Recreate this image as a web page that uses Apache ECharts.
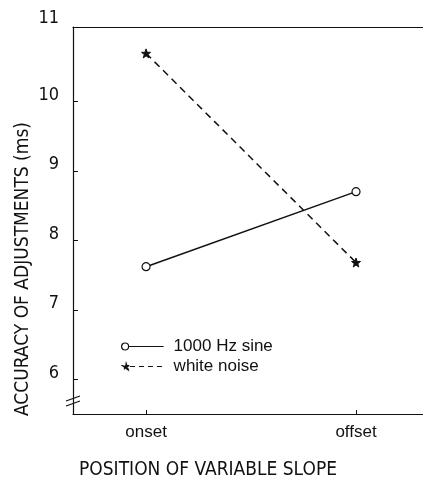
<!DOCTYPE html>
<html>
<head>
<meta charset="utf-8">
<script src="https://cdn.jsdelivr.net/npm/echarts@6/dist/echarts.min.js"></script>
<style>html,body{margin:0;padding:0;background:#fff;}#c{width:423px;height:479px;}</style>
</head>
<body>
<div id="c"></div>
<script>
var categories = ['onset', 'offset'];
var categoryX = [1, 2];
var sineValues = [7.62, 8.70];
var noiseValues = [10.69, 7.68];
var yTicks = [6, 7, 8, 9, 10, 11];
var seriesNames = ['1000 Hz sine', 'white noise'];

var NARROW = "'Liberation Sans Narrow', 'DejaVu Sans Condensed', sans-serif";
var SANS = "'Liberation Sans', Arial, sans-serif";
var STAR = 'path://M0,-10 L2.35,-3.24 L9.51,-3.09 L3.8,1.24 L5.88,8.09 L0,4 L-5.88,8.09 L-3.8,1.24 L-9.51,-3.09 L-2.35,-3.24 Z';
var ICON_SINE = 'path://M0,3.5 A3.5,3.5 0 1,1 7,3.5 A3.5,3.5 0 1,1 0,3.5 Z M7,3.5 L42,3.5';
var ICON_NOISE = 'path://M4,0 L4.94,2.71 L7.8,2.76 L5.52,4.49 L6.35,7.24 L4,5.6 L1.65,7.24 L2.48,4.49 L0.2,2.76 L3.06,2.71 Z M8,3.6 L42,3.6';

function pairs(vals) { return vals.map(function (v, i) { return [categoryX[i], v]; }); }

var chart = echarts.init(document.getElementById('c'));
chart.setOption({
  animation: false,
  backgroundColor: '#fff',
  grid: { left: 73, top: 27, right: 0, bottom: 65 },
  xAxis: [{
    type: 'value', min: 0.652, max: 2.319,
    axisLine: { show: true, lineStyle: { color: '#111', width: 1.2 } },
    axisTick: { show: true, inside: true, length: 4, customValues: categoryX, lineStyle: { color: '#111' } },
    axisLabel: { customValues: categoryX, margin: 10, fontFamily: SANS, fontSize: 17, color: '#111',
      formatter: function (v) { var i = categoryX.indexOf(v); return i >= 0 ? categories[i] : ''; } },
    splitLine: { show: false }
  }, {
    type: 'value', position: 'top', min: 0.652, max: 2.319,
    axisLine: { show: true, lineStyle: { color: '#111', width: 1.2 } },
    axisTick: { show: false }, axisLabel: { show: false }, splitLine: { show: false }
  }],
  yAxis: {
    type: 'value', min: 5.5, max: 11.07,
    axisLine: { show: true, lineStyle: { color: '#111', width: 1.2 } },
    axisTick: { show: true, inside: true, length: 5, customValues: yTicks.slice(0, 5), lineStyle: { color: '#111' } },
    axisLabel: {
      customValues: yTicks, margin: 14, fontFamily: NARROW, fontSize: 18, color: '#111',
      formatter: function (v) { return v === 11 ? '{hi|' + v + '}' : '{lo|' + v + '}'; },
      rich: {
        lo: { fontFamily: NARROW, fontSize: 18, color: '#111', padding: [0, 0, 12, 0] },
        hi: { fontFamily: NARROW, fontSize: 18, color: '#111', padding: [0, 0, 28, 0] }
      }
    },
    splitLine: { show: false }
  },
  legend: {
    orient: 'vertical', left: 116, top: 333, itemWidth: 42, itemHeight: 7, itemGap: 3,
    textStyle: { fontFamily: SANS, fontSize: 17, color: '#111', padding: [0, 0, 0, 5] },
    data: [
      { name: seriesNames[0], icon: ICON_SINE, itemStyle: { color: '#fff', borderColor: '#111', borderWidth: 1.2 } },
      { name: seriesNames[1], icon: ICON_NOISE, itemStyle: { color: '#111', borderColor: '#111', borderWidth: 1.2, borderType: [5, 4] } }
    ]
  },
  series: [{
    name: seriesNames[0], type: 'line', data: pairs(sineValues),
    symbol: 'circle', symbolSize: 8,
    itemStyle: { color: '#fff', borderColor: '#111', borderWidth: 1.2 },
    lineStyle: { color: '#111', width: 1.5, type: 'solid' }
  }, {
    name: seriesNames[1], type: 'line', data: pairs(noiseValues),
    symbol: STAR, symbolSize: 9,
    itemStyle: { color: '#111', borderColor: '#111' },
    lineStyle: { color: '#111', width: 1.5, type: [7, 5] }
  }],
  graphic: [
    { type: 'line', shape: { x1: 66, y1: 401, x2: 80, y2: 396 }, style: { stroke: '#111', lineWidth: 1.3 } },
    { type: 'line', shape: { x1: 66, y1: 406, x2: 80, y2: 401 }, style: { stroke: '#111', lineWidth: 1.3 } },
    { type: 'text', x: 23, y: 269, rotation: Math.PI / 2, style: { text: 'ACCURACY OF ADJUSTMENTS (ms)', font: '19px ' + NARROW, fill: '#111', align: 'center', verticalAlign: 'middle' } },
    { type: 'text', x: 208, y: 470, style: { text: 'POSITION OF VARIABLE SLOPE', font: '19px ' + NARROW, fill: '#111', align: 'center', verticalAlign: 'middle' } }
  ]
});
</script>
</body>
</html>
